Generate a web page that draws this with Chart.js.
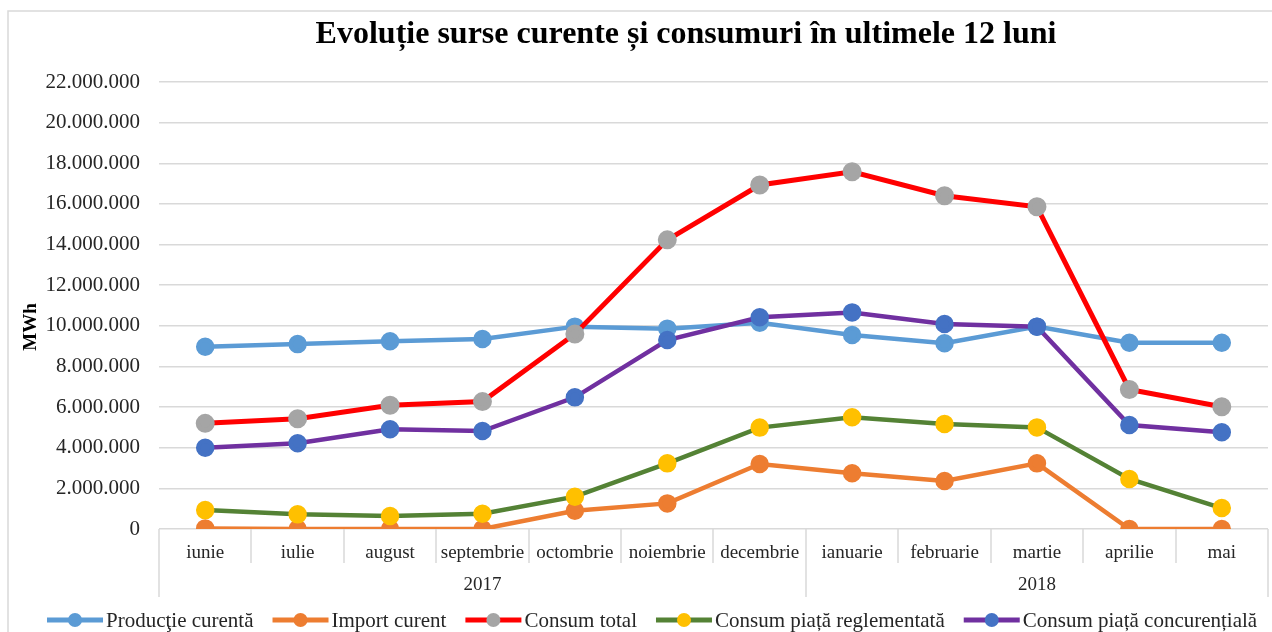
<!DOCTYPE html><html lang="ro"><head>
<meta charset="utf-8">
<script src="https://cdn.jsdelivr.net/npm/chart.js@4.4.0/dist/chart.umd.min.js"></script>
<style>
  html, body { margin: 0; padding: 0; background: #fff; overflow: hidden; }
</style>
</head>
<body>
<canvas id="myChart" width="1280" height="632"></canvas>
<script>
  // luni si ani (axa x pe doua niveluri)
  const months = ['iunie','iulie','august','septembrie','octombrie','noiembrie','decembrie','ianuarie','februarie','martie','aprilie','mai'];
  const years = ['2017','2018'];
  const yearSpans = [7, 5];

  // valori in MWh
  const productieCurenta = [8970000, 9100000, 9240000, 9350000, 9960000, 9860000, 10150000, 9550000, 9140000, 9960000, 9170000, 9170000];
  const importCurent = [30000, 0, 0, 0, 900000, 1260000, 3200000, 2740000, 2360000, 3230000, 0, 0];
  const consumTotal = [5200000, 5430000, 6090000, 6270000, 9600000, 14230000, 16930000, 17580000, 16400000, 15860000, 6870000, 6020000];
  const consumReglementat = [930000, 720000, 640000, 750000, 1590000, 3230000, 4990000, 5500000, 5170000, 5000000, 2460000, 1030000];
  const consumConcurential = [4000000, 4220000, 4910000, 4820000, 6480000, 9300000, 10420000, 10660000, 10090000, 9960000, 5120000, 4760000];

  const yTicks = { min: 0, max: 22000000, step: 2000000 };

  const serif = '"Liberation Serif", "Times New Roman", serif';
  const textColor = '#262626';
  const gridColor = '#d9d9d9';

  function fmt(v){
    return String(Math.round(v)).replace(/\B(?=(\d{3})+(?!\d))/g, '.');
  }

  const series = [
    { label: 'Producţie curentă', data: productieCurenta, line: '#5B9BD5', dot: '#5B9BD5' },
    { label: 'Import curent', data: importCurent, line: '#ED7D31', dot: '#ED7D31' },
    { label: 'Consum total', data: consumTotal, line: '#FF0000', dot: '#A5A5A5' },
    { label: 'Consum piață reglementată', data: consumReglementat, line: '#548235', dot: '#FFC000' },
    { label: 'Consum piață concurențială', data: consumConcurential, line: '#7030A0', dot: '#4472C4' }
  ];

  const extras = {
    id: 'extras',
    afterDraw(chart){
      const ctx = chart.ctx;
      const x = chart.scales.x;
      const area = chart.chartArea;
      const step = x.getPixelForValue(1) - x.getPixelForValue(0);
      ctx.save();

      // chenar
      ctx.strokeStyle = gridColor;
      ctx.lineWidth = 1.5;
      ctx.beginPath(); ctx.moveTo(8, 632); ctx.lineTo(8, 11); ctx.lineTo(1280, 11); ctx.stroke();

      // separatori categorii
      ctx.lineWidth = 1.5;
      const yearEdges = [0];
      yearSpans.reduce((a, s) => { yearEdges.push(a + s); return a + s; }, 0);
      for (let i = 0; i <= months.length; i++){
        const bx = Math.round(x.getPixelForValue(i) - step / 2);
        const long = yearEdges.includes(i);
        ctx.beginPath();
        ctx.moveTo(bx, area.bottom);
        ctx.lineTo(bx, area.bottom + (long ? 68 : 34));
        ctx.stroke();
      }

      // ani
      ctx.fillStyle = textColor;
      ctx.font = '19px ' + serif;
      ctx.textAlign = 'center';
      ctx.textBaseline = 'middle';
      years.forEach((yr, k) => {
        const a = x.getPixelForValue(yearEdges[k]) - step / 2;
        const b = x.getPixelForValue(yearEdges[k + 1]) - step / 2;
        ctx.fillText(yr, (a + b) / 2, area.bottom + 56);
      });

      // titlu
      ctx.fillStyle = '#000';
      ctx.font = 'bold 32px ' + serif;
      ctx.fillText('Evoluție surse curente și consumuri în ultimele 12 luni', 686, 35);

      // titlu axa y
      ctx.save();
      ctx.translate(31, 327);
      ctx.rotate(-Math.PI / 2);
      ctx.font = 'bold 19px ' + serif;
      ctx.fillStyle = '#000';
      ctx.fillText('MWh', 0, 0);
      ctx.restore();

      // legenda
      ctx.font = '21px ' + serif;
      ctx.textAlign = 'left';
      let lx = 47;
      const ly = 620;
      series.forEach(s => {
        ctx.strokeStyle = s.line;
        ctx.lineWidth = 5;
        ctx.beginPath(); ctx.moveTo(lx, ly); ctx.lineTo(lx + 56, ly); ctx.stroke();
        ctx.fillStyle = s.dot;
        ctx.beginPath(); ctx.arc(lx + 28, ly, 7, 0, Math.PI * 2); ctx.fill();
        ctx.fillStyle = textColor;
        ctx.fillText(s.label, lx + 59, ly + 1);
        lx += 59 + ctx.measureText(s.label).width + 19;
      });
      ctx.restore();
    }
  };

  const ctx = document.getElementById('myChart').getContext('2d');
  const myChart = new Chart(ctx, {
    type: 'line',
    data: {
      labels: months,
      datasets: series.map((s, i) => ({
        label: s.label,
        data: s.data,
        borderColor: s.line,
        borderWidth: i === 2 ? 5 : 4.5,
        pointBackgroundColor: s.dot,
        pointBorderColor: s.dot,
        pointRadius: 7,
        pointHoverRadius: 7,
        tension: 0,
        order: series.length - i
      }))
    },
    options: {
      responsive: false,
      animation: false,
      layout: { padding: { top: 82, right: 6, bottom: 37, left: 0 } },
      plugins: {
        legend: { display: false },
        title: { display: false },
        tooltip: { enabled: false }
      },
      scales: {
        x: {
          offset: true,
          grid: { display: false },
          border: { display: false },
          ticks: { color: textColor, font: { family: serif, size: 19 }, padding: 5, maxRotation: 0, autoSkip: false },
          afterFit(s){ s.height = 66; }
        },
        y: {
          min: yTicks.min,
          max: yTicks.max,
          grid: { color: gridColor, lineWidth: 1.5, drawTicks: false },
          border: { display: false },
          ticks: {
            stepSize: yTicks.step,
            color: textColor,
            font: { family: serif, size: 21 },
            padding: 19,
            callback: v => fmt(v)
          },
          afterFit(s){ s.width = 159; }
        }
      }
    },
    plugins: [extras]
  });
</script>
</body></html>
